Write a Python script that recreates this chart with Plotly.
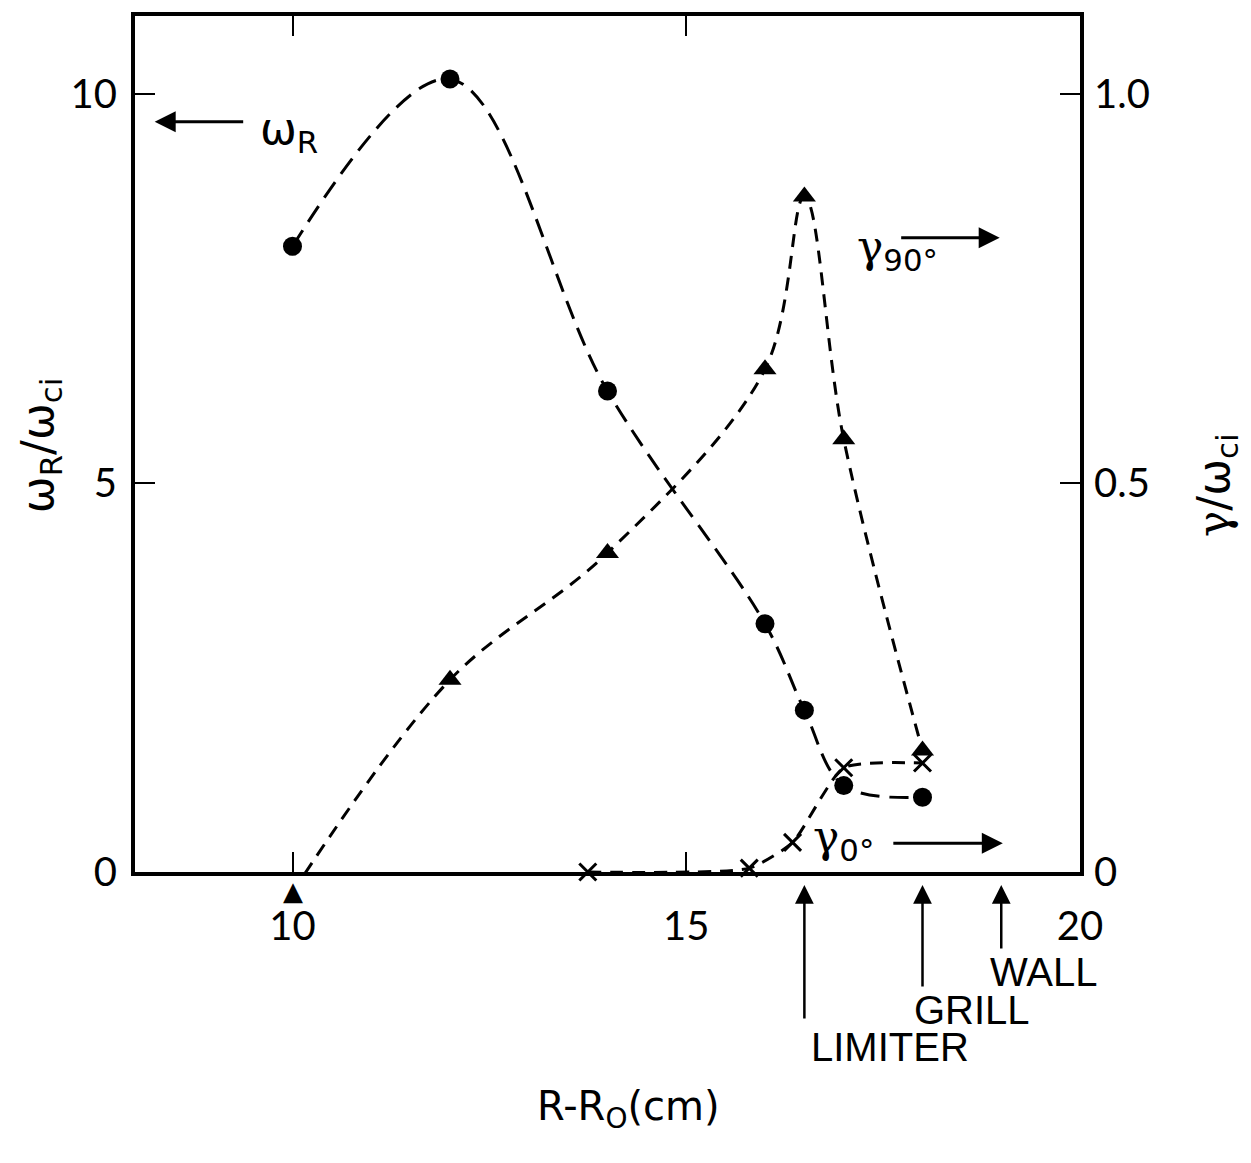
import plotly.graph_objects as go

# omega_R / omega_ci (left axis), filled circles
wr_x = [10.0, 12.0, 14.0, 16.0, 16.5, 17.0, 18.0]
wr_y = [8.04, 10.19, 6.18, 3.19, 2.08, 1.11, 0.96]

# gamma_90 / omega_ci (right axis), triangles
g90_x = [10.0, 12.0, 14.0, 16.0, 16.5, 17.0, 18.0]
g90_y = [-0.026, 0.247, 0.410, 0.646, 0.868, 0.556, 0.156]

# gamma_0 / omega_ci (right axis), crosses
g0_x = [13.75, 15.8, 16.35, 17.0, 18.0]
g0_y = [0.0, 0.005, 0.038, 0.134, 0.140]

x_ticks = [10, 15, 20]
yl_ticks = [0, 5, 10]
yr_ticks = [0, 0.5, 1.0]
yr_labels = ["0", "0.5", "1.0"]

# position markers below the x axis
marks_x = [16.5, 18.0, 19.0]
marks_txt = ["LIMITER", "GRILL", "WALL"]

X_RANGE = [8, 20]
YL_RANGE = [0, 11]
YR_RANGE = [0, 1.1]

FONT = "Lato"
SANS = "DejaVu Sans"
GAM = '<span style="font-family:DejaVu Serif">γ</span>'
fig = go.Figure()

fig.add_trace(go.Scatter(
    x=wr_x, y=wr_y, mode="lines+markers",
    line=dict(color="black", width=3, dash="19px,10px", shape="spline", smoothing=1.0),
    marker=dict(symbol="circle", size=19, color="black"),
    cliponaxis=False, showlegend=False))

fig.add_trace(go.Scatter(
    x=g90_x, y=g90_y, mode="lines+markers", yaxis="y2",
    line=dict(color="black", width=3, dash="13px,9px", shape="spline", smoothing=1.0),
    marker=dict(symbol="triangle-up", size=20, color="black"),
    cliponaxis=False, showlegend=False))

fig.add_trace(go.Scatter(
    x=g0_x, y=g0_y, mode="lines+markers", yaxis="y2",
    line=dict(color="black", width=3, dash="13px,9px", shape="spline", smoothing=0.55),
    marker=dict(symbol="x-thin", size=17, color="black", line=dict(color="black", width=3)),
    cliponaxis=False, showlegend=False))

ann = []
# triangle point lying just below the axis range (plotly hides out-of-range markers),
# placed in paper units derived from the right-axis range
ann.append(dict(x=g90_x[0], y=(g90_y[0] - YR_RANGE[0]) / (YR_RANGE[1] - YR_RANGE[0]),
                xref="x", yref="paper", text="▲", showarrow=False,
                xanchor="center", yanchor="middle", yshift=1,
                font=dict(family=SANS, size=26, color="black")))
# omega_R label with left arrow
ann.append(dict(x=8.25, y=9.64, xref="x", yref="y", ax=90, ay=0, text="",
                showarrow=True, arrowhead=2, arrowsize=1.4, arrowwidth=3, arrowcolor="black"))
ann.append(dict(x=9.95, y=9.52, xref="x", yref="y", text="ω<sub>R</sub>", showarrow=False,
                xanchor="center", yanchor="middle",
                font=dict(family=SANS, size=44, color="black")))
# gamma_90 label with right arrow
ann.append(dict(x=18.98, y=8.15, xref="x", yref="y", ax=-100, ay=0, text="",
                showarrow=True, arrowhead=2, arrowsize=1.4, arrowwidth=3, arrowcolor="black"))
ann.append(dict(x=17.68, y=8.0, xref="x", yref="y", text=GAM + "<sub>90°</sub>", showarrow=False,
                xanchor="center", yanchor="middle",
                font=dict(family=SANS, size=44, color="black")))
# gamma_0 label with right arrow
ann.append(dict(x=19.02, y=0.37, xref="x", yref="y", ax=-111, ay=0, text="",
                showarrow=True, arrowhead=2, arrowsize=1.4, arrowwidth=3, arrowcolor="black"))
ann.append(dict(x=17.0, y=0.42, xref="x", yref="y", text=GAM + "<sub>0°</sub>", showarrow=False,
                xanchor="center", yanchor="middle",
                font=dict(family=SANS, size=44, color="black")))

# bottom arrows
tails = [135, 103, 65]
txt_pos = [(17.59, -0.205), (18.63, -0.161), (19.54, -0.1166)]
for mx, t, tt, (tx, ty) in zip(marks_x, tails, marks_txt, txt_pos):
    ann.append(dict(x=mx, y=-0.0152, xref="x", yref="paper", ax=0, ay=t, text="",
                    showarrow=True, arrowhead=2, arrowsize=1.5, arrowwidth=2.5, arrowcolor="black"))
    ann.append(dict(x=tx, y=ty, xref="x", yref="paper", text=tt, showarrow=False,
                    xanchor="center", yanchor="middle",
                    font=dict(family="Liberation Sans", size=40, color="black")))

# axis titles
ann.append(dict(x=0.522, y=-0.277, xref="paper", yref="paper", text="R-R<sub>O</sub>(cm)",
                xanchor="center", yanchor="middle",
                showarrow=False, font=dict(family=SANS, size=40, color="black")))
ann.append(dict(x=-0.1, y=0.498, xref="paper", yref="paper", text="ω<sub>R</sub>/ω<sub>ci</sub>",
                xanchor="center", yanchor="middle",
                textangle=-90, showarrow=False, font=dict(family=SANS, size=44, color="black")))
ann.append(dict(x=1.145, y=0.451, xref="paper", yref="paper", text=GAM + "/ω<sub>ci</sub>",
                xanchor="center", yanchor="middle",
                textangle=-90, showarrow=False, font=dict(family=SANS, size=44, color="black")))

fig.update_layout(
    width=1251, height=1163,
    margin=dict(l=135, r=171, t=14, b=291),
    paper_bgcolor="white", plot_bgcolor="white",
    font=dict(family=FONT, size=40, color="black"),
    annotations=ann,
    xaxis=dict(range=X_RANGE, tickvals=x_ticks, ticks="inside", ticklen=20, tickwidth=2,
               tickcolor="black", showline=True, linewidth=4, linecolor="black", mirror="ticks",
               showgrid=False, zeroline=False, ticklabelstandoff=16),
    yaxis=dict(range=YL_RANGE, tickvals=yl_ticks, ticks="inside", ticklen=20, tickwidth=2,
               tickcolor="black", showline=True, linewidth=4, linecolor="black",
               showgrid=False, zeroline=False, ticklabelstandoff=6),
    yaxis2=dict(range=YR_RANGE, tickvals=yr_ticks, ticktext=yr_labels, overlaying="y", side="right",
                ticks="inside", ticklen=20, tickwidth=2, tickcolor="black", showline=True,
                linewidth=4, linecolor="black", showgrid=False, zeroline=False,
                ticklabelstandoff=2),
)

fig.write_html("out.html")
